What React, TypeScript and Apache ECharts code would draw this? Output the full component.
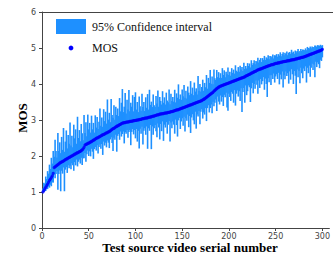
import React, { useEffect, useRef } from "react";
import * as echarts from "echarts";

const xTicks = [0, 50, 100, 150, 200, 250, 300];
const yTicks = [0, 1, 2, 3, 4, 5, 6];

const mos = [
  1.00,1.04,1.09,1.13,1.18,1.22,1.27,1.32,1.36,1.40,
  1.45,1.52,1.68,1.70,1.72,1.74,1.76,1.78,1.80,1.82,
  1.83,1.85,1.86,1.88,1.90,1.91,1.93,1.94,1.96,1.97,
  1.99,2.00,2.02,2.03,2.05,2.06,2.08,2.09,2.10,2.12,
  2.13,2.15,2.17,2.20,2.24,2.30,2.32,2.33,2.35,2.36,
  2.37,2.39,2.40,2.42,2.44,2.45,2.47,2.49,2.50,2.51,
  2.53,2.54,2.56,2.57,2.59,2.60,2.61,2.63,2.64,2.65,
  2.67,2.68,2.70,2.72,2.74,2.76,2.77,2.79,2.81,2.82,
  2.84,2.85,2.87,2.88,2.90,2.91,2.92,2.93,2.93,2.94,
  2.94,2.95,2.95,2.96,2.96,2.97,2.97,2.98,2.98,2.99,
  2.99,3.00,3.00,3.01,3.02,3.02,3.03,3.04,3.04,3.05,
  3.05,3.06,3.06,3.07,3.08,3.08,3.09,3.10,3.11,3.11,
  3.12,3.13,3.14,3.14,3.15,3.16,3.17,3.17,3.18,3.18,
  3.19,3.19,3.20,3.20,3.21,3.21,3.22,3.23,3.23,3.24,
  3.25,3.26,3.27,3.28,3.28,3.29,3.30,3.31,3.32,3.33,
  3.34,3.35,3.36,3.37,3.38,3.39,3.40,3.41,3.42,3.43,
  3.44,3.45,3.46,3.47,3.48,3.49,3.50,3.51,3.52,3.53,
  3.54,3.56,3.57,3.59,3.61,3.63,3.65,3.67,3.69,3.71,
  3.73,3.75,3.77,3.80,3.82,3.85,3.87,3.89,3.91,3.93,
  3.94,3.95,3.96,3.97,3.98,3.99,4.00,4.01,4.02,4.03,
  4.04,4.05,4.06,4.07,4.08,4.09,4.10,4.11,4.12,4.13,
  4.14,4.15,4.16,4.17,4.18,4.19,4.20,4.22,4.23,4.24,
  4.26,4.27,4.28,4.30,4.31,4.32,4.34,4.35,4.36,4.38,
  4.39,4.40,4.41,4.42,4.43,4.44,4.45,4.46,4.47,4.48,
  4.49,4.50,4.51,4.52,4.53,4.54,4.54,4.55,4.56,4.57,
  4.57,4.58,4.59,4.59,4.60,4.61,4.61,4.62,4.62,4.63,
  4.63,4.64,4.64,4.65,4.65,4.66,4.67,4.67,4.68,4.68,
  4.69,4.70,4.70,4.71,4.72,4.72,4.73,4.74,4.74,4.75,
  4.76,4.77,4.78,4.79,4.80,4.81,4.82,4.83,4.84,4.85,
  4.86,4.87,4.88,4.89,4.90,4.91,4.92,4.93,4.94,4.96,
];

const ciUp = [
  0.10,0.22,0.14,0.30,0.18,0.36,0.24,0.44,0.28,0.55,
  0.34,0.62,0.30,0.75,0.42,0.22,0.88,0.36,0.58,0.26,
  0.70,0.32,0.92,0.24,0.50,0.80,0.28,0.64,0.38,0.96,
  0.30,0.56,0.22,0.84,0.44,0.68,0.26,1.00,0.40,0.60,
  0.28,0.74,0.46,0.24,0.90,0.34,0.62,0.22,0.80,0.38,
  0.55,0.26,0.72,0.32,0.48,0.20,0.66,0.30,0.58,0.24,
  0.42,0.78,0.28,0.50,0.22,0.70,0.36,0.60,0.26,0.92,
  0.34,0.52,0.24,0.86,0.40,0.30,0.64,0.22,0.56,0.32,
  0.48,0.26,0.74,0.36,0.58,0.95,0.30,0.44,0.82,0.24,
  0.62,0.34,0.88,0.28,0.52,0.40,0.72,0.26,0.66,0.78,
  0.30,0.50,0.22,0.64,0.36,0.24,0.70,0.32,0.46,0.20,
  0.58,0.28,0.66,0.22,0.76,0.34,0.42,0.26,0.60,0.30,
  0.24,0.54,0.32,0.68,0.22,0.48,0.36,0.26,0.62,0.30,
  0.44,0.24,0.56,0.34,0.28,0.64,0.22,0.50,0.30,0.40,
  0.26,0.58,0.22,0.46,0.34,0.70,0.28,0.40,0.24,0.52,
  0.32,0.62,0.26,0.44,0.22,0.54,0.36,0.28,0.66,0.30,
  0.46,0.24,0.58,0.32,0.40,0.22,0.72,0.30,0.48,0.26,
  0.38,0.56,0.24,0.44,0.30,0.62,0.22,0.50,0.34,0.68,
  0.28,0.46,0.22,0.60,0.34,0.26,0.52,0.30,0.42,0.24,
  0.36,0.22,0.48,0.28,0.40,0.20,0.34,0.26,0.44,0.22,
  0.30,0.18,0.38,0.24,0.32,0.20,0.42,0.26,0.22,0.34,
  0.20,0.36,0.24,0.30,0.18,0.40,0.22,0.28,0.20,0.34,
  0.24,0.30,0.18,0.36,0.22,0.26,0.32,0.20,0.28,0.24,
  0.34,0.20,0.26,0.30,0.18,0.28,0.22,0.32,0.20,0.26,
  0.22,0.30,0.18,0.26,0.24,0.20,0.28,0.16,0.24,0.22,
  0.26,0.18,0.24,0.20,0.28,0.16,0.22,0.26,0.18,0.24,
  0.20,0.26,0.16,0.22,0.24,0.18,0.28,0.20,0.22,0.16,
  0.24,0.18,0.22,0.26,0.16,0.20,0.24,0.18,0.22,0.20,
  0.18,0.22,0.16,0.24,0.20,0.18,0.22,0.16,0.20,0.18,
  0.16,0.20,0.18,0.14,0.18,0.16,0.14,0.16,0.12,0.12,
];

const ciDown = [
  0.00,0.04,0.06,0.10,0.08,0.14,0.12,0.20,0.16,0.24,
  0.18,0.26,0.20,0.32,0.22,0.16,0.70,0.28,0.20,0.80,
  0.24,0.34,0.18,0.86,0.28,0.22,0.40,0.20,0.30,0.24,
  0.36,0.20,0.28,0.44,0.22,0.32,0.18,0.38,0.26,0.22,
  0.34,0.20,0.42,0.26,0.30,0.22,0.48,0.28,0.20,0.36,
  0.24,0.40,0.20,0.30,0.52,0.26,0.22,0.34,0.20,0.44,
  0.28,0.22,0.36,0.24,0.56,0.20,0.32,0.26,0.40,0.22,
  0.30,0.46,0.24,0.20,0.38,0.62,0.26,0.34,0.22,0.70,
  0.28,0.24,0.42,0.20,0.36,0.30,0.24,0.58,0.26,0.32,
  0.22,0.44,0.28,0.24,0.66,0.30,0.22,0.38,0.26,0.50,
  0.24,0.60,0.30,0.80,0.26,0.40,0.22,0.72,0.34,0.28,
  0.46,0.24,0.86,0.30,0.38,0.22,0.90,0.28,0.52,0.34,
  0.26,0.44,0.62,0.24,0.36,0.70,0.28,0.48,0.22,0.76,
  0.32,0.40,0.26,0.58,0.34,0.24,0.82,0.30,0.46,0.28,
  0.38,0.64,0.26,0.42,0.74,0.30,0.24,0.56,0.36,0.28,
  0.50,0.26,0.68,0.32,0.40,0.24,0.60,0.30,0.78,0.36,
  0.28,0.46,0.58,0.24,0.72,0.34,0.40,0.26,0.64,0.30,
  0.24,0.52,0.36,0.44,0.28,0.66,0.32,0.26,0.48,0.38,
  0.30,0.56,0.26,0.42,0.34,0.28,0.62,0.24,0.40,0.50,
  0.26,0.44,0.32,0.58,0.28,0.36,0.24,0.66,0.76,0.30,
  0.40,0.52,0.28,0.34,0.60,0.26,0.70,0.38,0.30,0.48,
  0.34,0.62,0.28,0.95,0.40,0.30,0.72,0.26,0.54,0.44,
  0.30,0.36,0.78,0.42,0.28,0.58,0.34,0.48,0.26,0.40,
  0.66,0.30,0.52,0.28,0.44,0.36,0.26,0.62,0.32,0.48,
  0.85,0.34,0.46,0.28,0.56,0.30,0.40,0.26,0.52,0.36,
  0.30,0.44,0.28,0.60,0.34,0.48,0.26,0.72,0.38,0.50,
  0.28,0.42,0.34,0.64,0.30,0.54,0.26,0.40,0.68,0.32,
  0.46,0.98,0.30,0.52,0.36,0.70,0.28,0.44,0.58,0.32,
  0.40,0.28,0.74,0.34,0.50,0.30,0.62,0.38,0.28,0.46,
  0.32,0.68,0.26,0.42,0.30,0.36,0.48,0.26,0.30,0.22,
];

const BAR_COLOR = "#1e90ff";
const DOT_COLOR = "#0000ff";
const SERIF = "'Liberation Serif', 'Times New Roman', serif";
const SANS = "'DejaVu Sans', sans-serif";

export default function App() {
  const ref = useRef<HTMLDivElement>(null);
  useEffect(() => {
    if (!ref.current) return;
    const chart = echarts.init(ref.current, undefined, { renderer: "svg" });
    const ciData = mos.map((m, i) => [i + 1, Math.max(1, m - ciDown[i]), m + ciUp[i]]);
    const mosData = mos.map((m, i) => [i + 1, m]);
    chart.setOption({
      animation: false,
      grid: { left: 42, top: 12, right: 0, bottom: 28, containLabel: false },
      xAxis: {
        type: "value",
        min: 0,
        max: 307.5,
        interval: 50,
        splitLine: { show: false },
        axisLine: { show: true, lineStyle: { color: "#444", width: 1 } },
        axisTick: { show: true, length: 3, lineStyle: { color: "#444" }, customValues: xTicks },
        axisLabel: { color: "#444", fontSize: 8, fontFamily: SANS, margin: 4, customValues: xTicks },
      },
      yAxis: {
        type: "value",
        min: 0,
        max: 6,
        interval: 1,
        splitLine: { show: false },
        axisLine: { show: true, lineStyle: { color: "#444", width: 1 } },
        axisTick: { show: true, length: 3, lineStyle: { color: "#444" }, customValues: yTicks },
        axisLabel: { color: "#444", fontSize: 8, fontFamily: SANS, margin: 6, customValues: yTicks },
      },
      series: [
        {
          type: "custom",
          data: ciData,
          encode: { x: 0, y: [1, 2] },
          renderItem: (params: any, api: any) => {
            const x = api.value(0);
            const lo = api.coord([x, api.value(1)]);
            const hi = api.coord([x, api.value(2)]);
            const w = 1.6;
            return {
              type: "rect",
              shape: { x: lo[0] - w / 2, y: hi[1], width: w, height: lo[1] - hi[1] },
              style: { fill: BAR_COLOR },
            };
          },
          z: 1,
        },
        {
          type: "scatter",
          data: mosData,
          symbol: "circle",
          symbolSize: 3.2,
          itemStyle: { color: DOT_COLOR },
          z: 2,
        },
      ],
      graphic: [
        {
          type: "line",
          shape: { x1: 42, y1: 12.5, x2: 333, y2: 12.5 },
          style: { stroke: "#444", lineWidth: 1 },
        },
        {
          type: "rect",
          shape: { x: 56, y: 19, width: 30, height: 15 },
          style: { fill: BAR_COLOR },
        },
        {
          type: "text",
          x: 92,
          y: 27,
          style: { text: "95% Confidence interval", font: `12px ${SERIF}`, fill: "#111", verticalAlign: "middle" },
        },
        {
          type: "circle",
          shape: { cx: 71, cy: 48, r: 2.4 },
          style: { fill: DOT_COLOR },
        },
        {
          type: "text",
          x: 92,
          y: 48,
          style: { text: "MOS", font: `12px ${SERIF}`, fill: "#111", verticalAlign: "middle" },
        },
        {
          type: "text",
          x: 22,
          y: 118,
          rotation: Math.PI / 2,
          style: { text: "MOS", font: `bold 13px ${SERIF}`, fill: "#000", align: "center", verticalAlign: "middle" },
        },
        {
          type: "text",
          x: 190,
          y: 247,
          style: { text: "Test source video serial number", font: `bold 13px ${SERIF}`, fill: "#000", align: "center", verticalAlign: "middle" },
        },
      ],
    });
    return () => chart.dispose();
  }, []);
  return <div ref={ref} style={{ width: 333, height: 256, position: "absolute", left: 0, top: 0 }} />;
}
